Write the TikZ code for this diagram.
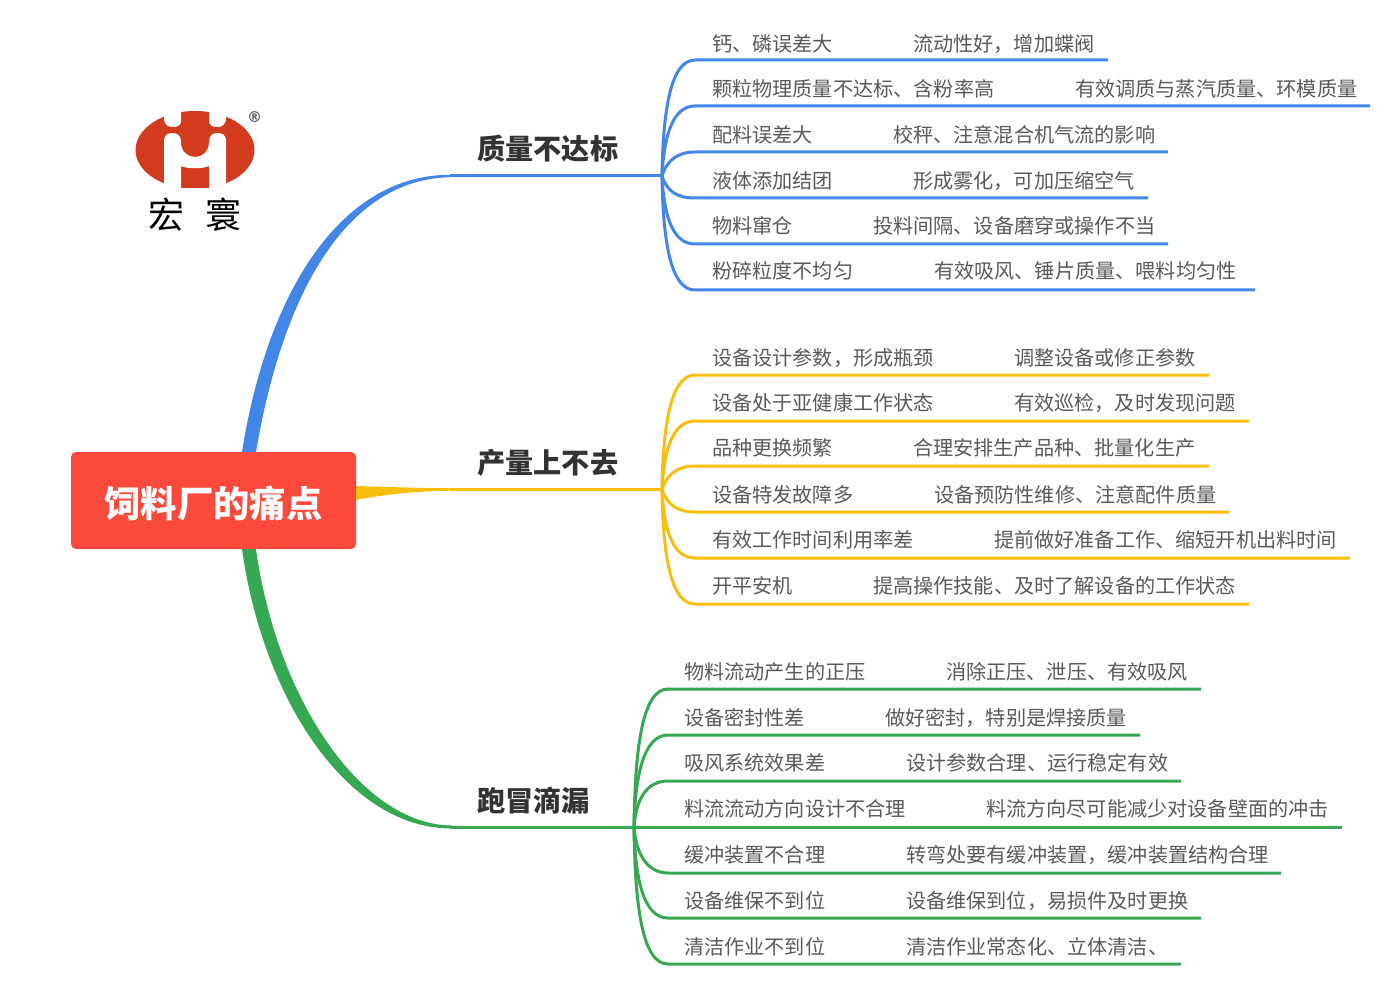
\documentclass[tikz,border=0pt]{standalone}
\usepackage{fontspec}
\setmainfont{Noto Sans CJK SC}
\newfontfamily\regfont{DejaVu Sans}
\definecolor{qblue}{HTML}{4286E8}
\definecolor{pyellow}{HTML}{F9BD0E}
\definecolor{lgreen}{HTML}{36A852}
\definecolor{rootred}{HTML}{FB4A3B}
\definecolor{logored}{HTML}{D23B1E}
\definecolor{leafgray}{HTML}{595959}
\tikzset{
  rootbox/.style={fill=rootred,rounded corners=5pt,minimum width=285pt,minimum height=97pt,inner sep=0pt,text height=33pt,text depth=0pt,text=white,font=\fontsize{36.300}{36}\selectfont\bfseries},
  topic/.style={anchor=west,inner sep=0pt,yshift=-0.500pt,text=black!80,font=\fontsize{28.200}{28}\selectfont\bfseries},
  leaf/.style={anchor=west,inner sep=0pt,yshift=-0.800pt,text=leafgray,font=\fontsize{20.150}{20}\selectfont},
  logotext/.style={inner sep=0pt,text=black,font=\fontsize{36}{36}\selectfont},
  qline/.style={draw=qblue,line width=3pt},
  pline/.style={draw=pyellow,line width=3pt},
  lline/.style={draw=lgreen,line width=3pt}
}
\begin{document}
\begin{tikzpicture}[x=1pt,y=-1pt]
\useasboundingbox (0,0) rectangle (1392,992);

   % logo
   \begin{scope}
   \clip (100,112) rectangle (290,188);
   \fill[logored] (195,150) ellipse (59.5 and 39);
   \end{scope}
   \fill[white] (164,110) -- (164,118) .. controls (164,126) and (170,127) .. (172,127) .. controls (176,127) and (181,127) .. (181,120) -- (181,110) -- cycle;
   \fill[white] (226,110) -- (226,118) .. controls (226,126) and (220,127) .. (218,127) .. controls (214,127) and (209,127) .. (209,120) -- (209,110) -- cycle;
   \fill[white] (164,190) -- (164,140) .. controls (164,134) and (170,133) .. (172,133) .. controls (178,133) and (181,136) .. (181,142)
      .. controls (181,152) and (188,157) .. (195,157) .. controls (202,157) and (209,152) .. (209,142)
      .. controls (209,136) and (212,133) .. (218,133) .. controls (220,133) and (226,134) .. (226,140) -- (226,190) -- (209,190) -- (209,166)
      .. controls (203,169) and (187,169) .. (181,166) -- (181,190) -- cycle;
   \node[logotext] at (166,214.500) (hong) {宏};
   \node[logotext] at (223,214.500) (huan) {寰};
   \node[inner sep=0pt,text=black!65,font=\fontsize{15}{15}\regfont\bfseries] at (254.500,117) (reg) {®};

   % root and main branches
   \node[rootbox] at (213.500,500.500) (root) {饲料厂的痛点};

   \fill[qblue] (242,452) .. controls (268,288) and (343,173.500) .. (452,174.800) -- (452,177.200) .. controls (347,178) and (283,292) .. (256,452) -- cycle;
   \fill[pyellow] (356,486) .. controls (385,487) and (420,488) .. (452,488.300) -- (452,490.700) .. controls (420,491) and (385,494) .. (356,500) -- cycle;
   \fill[lgreen] (242,549) .. controls (263,700) and (348,829) .. (452,828.500) -- (452,825.500) .. controls (362,825) and (277,700) .. (256,549) -- cycle;

   \node[topic] at (477,148) (t1) {质量不达标};
   \node[topic] at (477,462) (t2) {产量上不去};
   \node[topic] at (477,800) (t3) {跑冒滴漏};

   \coordinate (q0) at (450,176);
   \coordinate (qhub) at (662,176);
   \coordinate (p0) at (450,489.500);
   \coordinate (phub) at (662,489.500);
   \coordinate (l0) at (450,827);
   \coordinate (lhub) at (634,827);
   \draw[qline] (q0) -- (qhub);
   \draw[pline] (p0) -- (phub);
   \draw[lline] (l0) -- (lhub);

   % quality
   \node[leaf] at (712,43) (q1) {钙、磷误差大};
   \node[leaf] at (913,43) (qf1) {流动性好，增加蝶阀};
   \node[leaf] at (712,88) (q2) {颗粒物理质量不达标、含粉率高};
   \node[leaf] at (1075,88) (qf2) {有效调质与蒸汽质量、环模质量};
   \node[leaf] at (712,134) (q3) {配料误差大};
   \node[leaf] at (893,134) (qf3) {校秤、注意混合机气流的影响};
   \node[leaf] at (712,180) (q4) {液体添加结团};
   \node[leaf] at (913,180) (qf4) {形成雾化，可加压缩空气};
   \node[leaf] at (712,225) (q5) {物料窜仓};
   \node[leaf] at (873,225) (qf5) {投料间隔、设备磨穿或操作不当};
   \node[leaf] at (712,270) (q6) {粉碎粒度不均匀};
   \node[leaf] at (934,270) (qf6) {有效吸风、锤片质量、喂料均匀性};

   \coordinate (qe1) at (1108,60);
   \coordinate (qe2) at (1370,106);
   \coordinate (qe3) at (1168,152);
   \coordinate (qe4) at (1148,198);
   \coordinate (qe5) at (1168,244);
   \coordinate (qe6) at (1255,290);
   \draw[qline] (qhub) .. controls (663,105) and (672,60) .. (695,60) -- (qe1);
   \draw[qline] (qhub) .. controls (664,135) and (673,106) .. (695,106) -- (qe2);
   \draw[qline] (qhub) .. controls (667,160) and (678,152) .. (695,152) -- (qe3);
   \draw[qline] (qhub) .. controls (667,192) and (678,198) .. (695,198) -- (qe4);
   \draw[qline] (qhub) .. controls (664,217) and (673,244) .. (695,244) -- (qe5);
   \draw[qline] (qhub) .. controls (663,247) and (672,290) .. (695,290) -- (qe6);

   % output
   \node[leaf] at (712,357) (p1) {设备设计参数，形成瓶颈};
   \node[leaf] at (1014,357) (pf1) {调整设备或修正参数};
   \node[leaf] at (712,402) (p2) {设备处于亚健康工作状态};
   \node[leaf] at (1014,402) (pf2) {有效巡检，及时发现问题};
   \node[leaf] at (712,447) (p3) {品种更换频繁};
   \node[leaf] at (913,447) (pf3) {合理安排生产品种、批量化生产};
   \node[leaf] at (712,494) (p4) {设备特发故障多};
   \node[leaf] at (934,494) (pf4) {设备预防性维修、注意配件质量};
   \node[leaf] at (712,539) (p5) {有效工作时间利用率差};
   \node[leaf] at (994,539) (pf5) {提前做好准备工作、缩短开机出料时间};
   \node[leaf] at (712,585) (p6) {开平安机};
   \node[leaf] at (873,585) (pf6) {提高操作技能、及时了解设备的工作状态};

   \coordinate (pe1) at (1209,375);
   \coordinate (pe2) at (1249,421);
   \coordinate (pe3) at (1209,466);
   \coordinate (pe4) at (1229,512);
   \coordinate (pe5) at (1350,558);
   \coordinate (pe6) at (1249,604);
   \draw[pline] (phub) .. controls (663,420) and (672,375) .. (695,375) -- (pe1);
   \draw[pline] (phub) .. controls (664,449) and (673,421) .. (695,421) -- (pe2);
   \draw[pline] (phub) .. controls (667,474) and (678,466) .. (695,466) -- (pe3);
   \draw[pline] (phub) .. controls (667,505) and (678,512) .. (695,512) -- (pe4);
   \draw[pline] (phub) .. controls (664,531) and (673,558) .. (695,558) -- (pe5);
   \draw[pline] (phub) .. controls (663,561) and (672,604) .. (695,604) -- (pe6);

   % leaks
   \node[leaf] at (684,671) (l1) {物料流动产生的正压};
   \node[leaf] at (946,671) (lf1) {消除正压、泄压、有效吸风};
   \node[leaf] at (684,717) (l2) {设备密封性差};
   \node[leaf] at (885,717) (lf2) {做好密封，特别是焊接质量};
   \node[leaf] at (684,762) (l3) {吸风系统效果差};
   \node[leaf] at (906,762) (lf3) {设计参数合理、运行稳定有效};
   \node[leaf] at (684,808) (l4) {料流流动方向设计不合理};
   \node[leaf] at (986,808) (lf4) {料流方向尽可能减少对设备壁面的冲击};
   \node[leaf] at (684,854) (l5) {缓冲装置不合理};
   \node[leaf] at (906,854) (lf5) {转弯处要有缓冲装置，缓冲装置结构合理};
   \node[leaf] at (684,900) (l6) {设备维保不到位};
   \node[leaf] at (906,900) (lf6) {设备维保到位，易损件及时更换};
   \node[leaf] at (684,946) (l7) {清洁作业不到位};
   \node[leaf] at (906,946) (lf7) {清洁作业常态化、立体清洁、};

   \coordinate (le1) at (1201,689);
   \coordinate (le2) at (1140,735);
   \coordinate (le3) at (1181,781);
   \coordinate (le4) at (1342,827);
   \coordinate (le5) at (1281,873);
   \coordinate (le6) at (1201,918);
   \coordinate (le7) at (1181,964);
   \draw[lline] (lhub) .. controls (635,745) and (643,689) .. (668,689) -- (le1);
   \draw[lline] (lhub) .. controls (635,775) and (644,735) .. (668,735) -- (le2);
   \draw[lline] (lhub) .. controls (636,800) and (646,781) .. (668,781) -- (le3);
   \draw[lline] (lhub) -- (le4);
   \draw[lline] (lhub) .. controls (636,855) and (648,873) .. (668,873) -- (le5);
   \draw[lline] (lhub) .. controls (635,880) and (644,918) .. (668,918) -- (le6);
   \draw[lline] (lhub) .. controls (635,910) and (643,964) .. (668,964) -- (le7);
\end{tikzpicture}
\end{document}
